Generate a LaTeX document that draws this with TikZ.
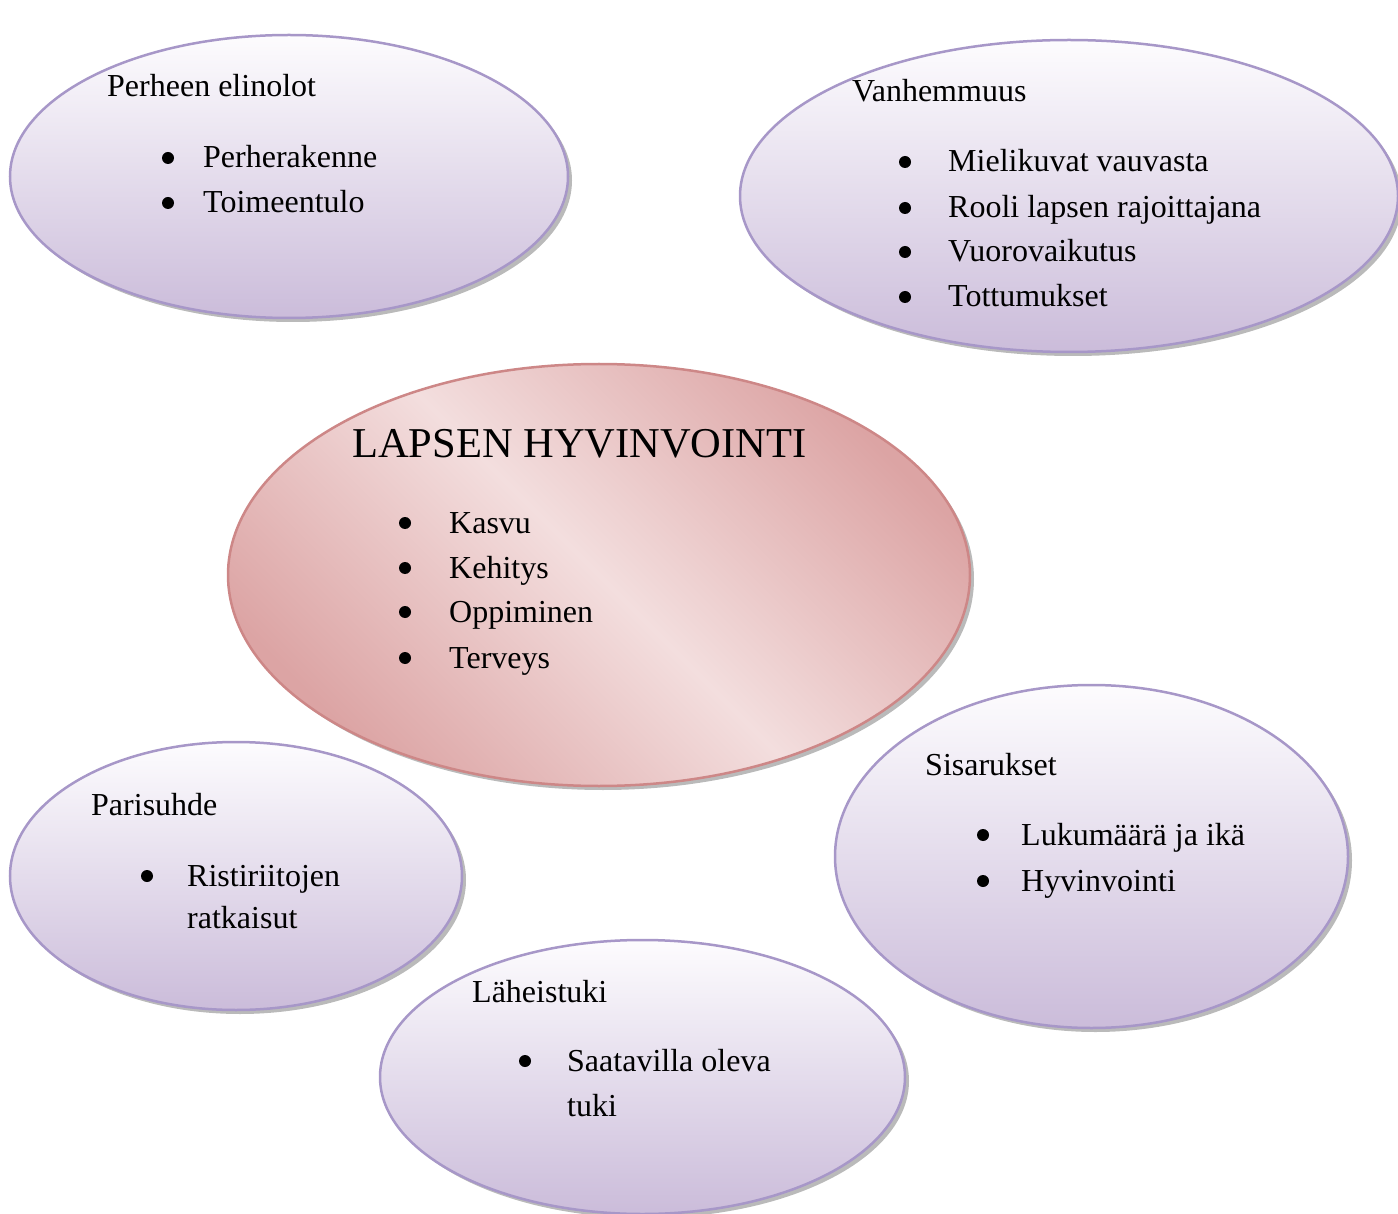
\documentclass[tikz,border=0pt]{standalone}
\usepackage{fontspec}
\setmainfont{Liberation Serif}
\usetikzlibrary{shapes.geometric,shadows}

\definecolor{lavtop}{HTML}{FDFCFE}
\definecolor{lavbot}{HTML}{CBBCDA}
\definecolor{lavline}{HTML}{A797C8}
\definecolor{rosedark}{HTML}{DCA4A4}
\definecolor{roselight}{HTML}{F3DEDE}
\definecolor{roseline}{HTML}{CD8787}

\begin{document}
\begin{tikzpicture}
  [x=1pt,y=-1pt,
   every node/.style={inner sep=0pt},
   blob/.style={ellipse,draw=lavline,line width=2.5pt,top color=lavtop,bottom color=lavbot,
     drop shadow={shadow xshift=4pt,shadow yshift=-4pt,opacity=.45,fill=black!60}},
   heart/.style={ellipse,draw=roseline,line width=2.5pt,left color=rosedark,right color=rosedark,
     middle color=roselight,shading angle=135,
     drop shadow={shadow xshift=4pt,shadow yshift=-4pt,opacity=.45,fill=black!60}},
   txt/.style={anchor=base west,font=\fontsize{32}{45}\selectfont},
   head/.style={anchor=base west,font=\fontsize{42.5}{50}\selectfont},
   dot/.style={circle,fill=black,minimum size=12pt}]
  \useasboundingbox (0,0) rectangle (1398,1214);

  % ellipses
  \node [blob,minimum width=558,minimum height=283] (elinolot) at (289,176.5) {};
  \node [blob,minimum width=658,minimum height=312] (vanhemmuus) at (1069,196) {};
  \node [heart,minimum width=742,minimum height=422] (lapsi) at (599,575) {};
  \node [blob,minimum width=452,minimum height=268] (parisuhde) at (236,876) {};
  \node [blob,minimum width=513,minimum height=343] (sisarukset) at (1091.5,856.5) {};
  \node [blob,minimum width=525,minimum height=274] (laheistuki) at (642.5,1077) {};

  % Perheen elinolot
  \node [txt] (t1) at (107,97) {Perheen elinolot};
  \foreach \y/\t [count=\i] in {168/Perherakenne,213/Toimeentulo}{
    \node [dot] (d1\i) at (168,\y-10) {};
    \node [txt] (t1\i) at (203,\y) {\t};
  }

  % Vanhemmuus
  \node [txt] (t2) at (852,102) {Vanhemmuus};
  \foreach \y/\t [count=\i] in {172/Mielikuvat vauvasta,218/Rooli lapsen rajoittajana,262/Vuorovaikutus,307/Tottumukset}{
    \node [dot] (d2\i) at (905,\y-10) {};
    \node [txt] (t2\i) at (948,\y) {\t};
  }

  % Lapsen hyvinvointi
  \node [head] (t3) at (352,457) {LAPSEN HYVINVOINTI};
  \foreach \y/\t [count=\i] in {533/Kasvu,578/Kehitys,622/Oppiminen,668/Terveys}{
    \node [dot] (d3\i) at (405,\y-10) {};
    \node [txt] (t3\i) at (449,\y) {\t};
  }

  % Parisuhde
  \node [txt] (t4) at (91,815) {Parisuhde};
  \node [dot] (d41) at (147,876) {};
  \node [txt] (t41) at (187,886) {Ristiriitojen};
  \node [txt] (t42) at (187,928) {ratkaisut};

  % Sisarukset
  \node [txt] (t5) at (925,775) {Sisarukset};
  \foreach \y/\t [count=\i] in {845/Lukumäärä ja ikä,891/Hyvinvointi}{
    \node [dot] (d5\i) at (983,\y-10) {};
    \node [txt] (t5\i) at (1021,\y) {\t};
  }

  % Läheistuki
  \node [txt] (t6) at (472,1002) {Läheistuki};
  \node [dot] (d61) at (525,1061) {};
  \node [txt] (t61) at (567,1071) {Saatavilla oleva};
  \node [txt] (t62) at (567,1116) {tuki};

\end{tikzpicture}
\end{document}
